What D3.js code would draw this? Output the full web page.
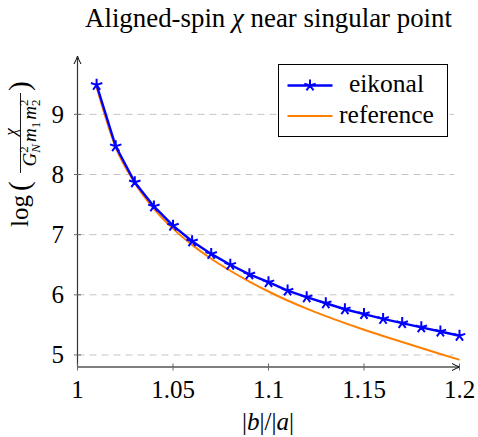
<!DOCTYPE html>
<html lang="en">
<head>
  <meta charset="UTF-8" />
  <title>Aligned-spin chi near singular point</title>
  <script src="https://d3js.org/d3.v7.min.js"></script>
  <style>
    body { margin: 0; background: #fff; }
    svg { display: block; }
  </style>
</head>
<body>
  <svg id="chart" width="478" height="437"></svg>

  <script>
    // values
    const ratio = [1.01, 1.02, 1.03, 1.04, 1.05, 1.06, 1.07, 1.08, 1.09, 1.10,
                   1.11, 1.12, 1.13, 1.14, 1.15, 1.16, 1.17, 1.18, 1.19, 1.20];
    const eikonal = [9.49, 8.47, 7.87, 7.47, 7.15, 6.89, 6.68, 6.50, 6.34, 6.21,
                     6.07, 5.96, 5.86, 5.76, 5.68, 5.60, 5.53, 5.46, 5.39, 5.32];
    const reference = [9.45, 8.45, 7.86, 7.43, 7.10, 6.83, 6.60, 6.40, 6.22, 6.055,
                       5.905, 5.77, 5.645, 5.53, 5.42, 5.315, 5.215, 5.115, 5.015, 4.92];
    const xTicks = [1, 1.05, 1.1, 1.15, 1.2];
    const xTickLabels = ['1', '1.05', '1.1', '1.15', '1.2'];
    const yTicks = [5, 6, 7, 8, 9];
    const seriesNames = ['eikonal', 'reference'];
    const seriesColors = ['#0000ff', '#ff8000'];

    const font = '"Liberation Serif"';
    const svg = d3.select('#chart').style('font-family', font);

    const x = d3.scaleLinear().domain([1, 1.2]).range([77.5, 459.5]);
    const y = d3.scaleLinear().domain([4.8, 9.97]).range([367, 56]);

    // grid lines
    svg.append('g')
      .selectAll('line')
      .data(yTicks)
      .join('line')
      .attr('x1', x(1)).attr('x2', 454)
      .attr('y1', d => y(d)).attr('y2', d => y(d))
      .attr('stroke', '#c4c4c4')
      .attr('stroke-width', 1)
      .attr('stroke-dasharray', '7,5');

    // reference curve
    const refLine = d3.line()
      .x((d, i) => x(ratio[i]))
      .y(d => y(d))
      .curve(d3.curveMonotoneX);

    svg.append('path')
      .datum(reference)
      .attr('d', refLine)
      .attr('fill', 'none')
      .attr('stroke', seriesColors[1])
      .attr('stroke-width', 2);

    // eikonal curve with star marks
    const eikLine = d3.line()
      .x((d, i) => x(ratio[i]))
      .y(d => y(d));

    svg.append('path')
      .datum(eikonal)
      .attr('d', eikLine)
      .attr('fill', 'none')
      .attr('stroke', seriesColors[0])
      .attr('stroke-width', 2.4);

    function starPath(r) {
      let p = '';
      for (let k = 0; k < 5; k++) {
        const a = -Math.PI / 2 + k * 2 * Math.PI / 5;
        p += `M0,0L${(r * Math.cos(a)).toFixed(2)},${(r * Math.sin(a)).toFixed(2)}`;
      }
      return p;
    }

    svg.append('g')
      .selectAll('path')
      .data(eikonal)
      .join('path')
      .attr('transform', (d, i) => `translate(${x(ratio[i])},${y(d)})`)
      .attr('d', starPath(6))
      .attr('fill', 'none')
      .attr('stroke', seriesColors[0])
      .attr('stroke-width', 2);

    // axes
    svg.append('line')
      .attr('x1', x(1)).attr('x2', x(1))
      .attr('y1', y(4.8)).attr('y2', 58)
      .attr('stroke', '#333').attr('stroke-width', 1.2);
    svg.append('path')
      .attr('d', `M${x(1) - 3.5},64 Q${x(1) - 1},59.5 ${x(1)},56 Q${x(1) + 1},59.5 ${x(1) + 3.5},64`)
      .attr('fill', 'none').attr('stroke', '#000').attr('stroke-width', 1);

    svg.append('line')
      .attr('x1', x(1)).attr('x2', 458)
      .attr('y1', y(4.8)).attr('y2', y(4.8))
      .attr('stroke', '#000').attr('stroke-width', 1.2);
    svg.append('path')
      .attr('d', `M452,${y(4.8) - 3.5} Q456.5,${y(4.8) - 1} 460,${y(4.8)} Q456.5,${y(4.8) + 1} 452,${y(4.8) + 3.5}`)
      .attr('fill', 'none').attr('stroke', '#000').attr('stroke-width', 1);

    // ticks
    svg.append('g')
      .selectAll('line')
      .data(xTicks)
      .join('line')
      .attr('x1', d => x(d)).attr('x2', d => x(d))
      .attr('y1', y(4.8) - 3.5).attr('y2', y(4.8) + 3.5)
      .attr('stroke', '#666').attr('stroke-width', 1);

    svg.append('g')
      .selectAll('line')
      .data(yTicks)
      .join('line')
      .attr('x1', x(1) - 3.5).attr('x2', x(1) + 3.5)
      .attr('y1', d => y(d)).attr('y2', d => y(d))
      .attr('stroke', '#666').attr('stroke-width', 1);

    svg.append('g')
      .selectAll('text')
      .data(xTicks)
      .join('text')
      .style('font-family', font)
      .attr('x', d => x(d))
      .attr('y', 397.5)
      .attr('text-anchor', 'middle')
      .attr('font-size', 25)
      .text((d, i) => xTickLabels[i]);

    svg.append('g')
      .selectAll('text')
      .data(yTicks)
      .join('text')
      .style('font-family', font)
      .attr('x', 64)
      .attr('y', d => y(d) + 8.5)
      .attr('text-anchor', 'end')
      .attr('font-size', 25)
      .text(d => d);

    // title, fitted to the width it has in the reference
    const title = svg.append('text')
      .style('font-family', font)
      .attr('x', 268.5).attr('y', 26.5)
      .attr('text-anchor', 'middle')
      .attr('font-size', 25)
      .html('Aligned-spin <tspan font-style="italic">χ</tspan> near singular point');
    const tw = title.node().getComputedTextLength();
    title.attr('font-size', 25 * 367 / tw);

    // x label
    svg.append('text')
      .style('font-family', font)
      .attr('x', 268).attr('y', 430)
      .attr('text-anchor', 'middle')
      .attr('font-size', 25)
      .html('|<tspan font-style="italic">b</tspan>|/|<tspan font-style="italic">a</tspan>|');

    // y label, built in a rotated frame (u = -y, v = x)
    const yl = svg.append('g').attr('transform', 'translate(2,0) rotate(-90)').style('font-family', font);
    yl.append('text').style('font-family', font)
      .attr('x', -227).attr('y', 26).attr('font-size', 25).text('log');
    yl.append('text').style('font-family', font)
      .attr('x', -191).attr('y', 27).attr('font-size', 29).text('(');
    yl.append('text').style('font-family', font)
      .attr('x', -91).attr('y', 27).attr('font-size', 29).text(')');
    yl.append('line')
      .attr('x1', -173).attr('x2', -93)
      .attr('y1', 18.5).attr('y2', 18.5)
      .attr('stroke', '#000').attr('stroke-width', 0.9);
    yl.append('text').style('font-family', font)
      .attr('x', -132).attr('y', 14).attr('text-anchor', 'middle')
      .attr('font-size', 17).attr('font-style', 'italic').text('χ');

    // denominator: G^2_N m_1 m^2_2
    const denomParts = [
      { t: 'G', s: 19, dy: 0, it: true },
      { t: '2', s: 13, dy: -8, it: false, stack: true },
      { t: 'N', s: 13, dy: 4, it: true },
      { t: 'm', s: 19, dy: 0, it: true, gap: 2 },
      { t: '1', s: 13, dy: 4, it: false },
      { t: 'm', s: 19, dy: 0, it: true, gap: 2 },
      { t: '2', s: 13, dy: -8, it: false, stack: true },
      { t: '2', s: 13, dy: 4, it: false }
    ];
    const denom = yl.append('g');
    let u = 0;
    let stackStart = null;
    const base = 34;
    denomParts.forEach(p => {
      if (p.gap) u += p.gap;
      const xPos = p.stack ? u : (stackStart !== null ? stackStart : u);
      const el = denom.append('text')
        .style('font-family', font)
        .attr('x', xPos).attr('y', base + p.dy)
        .attr('font-size', p.s)
        .attr('font-style', p.it ? 'italic' : 'normal')
        .text(p.t);
      const w = el.node().getComputedTextLength();
      if (p.stack) {
        stackStart = u;
        u = u + w;
      } else if (stackStart !== null) {
        u = Math.max(u, stackStart + w);
        stackStart = null;
      } else {
        u += w;
      }
    });
    // centre the denominator under the fraction bar
    denom.attr('transform', `translate(${-133 - u / 2},0)`);

    // legend
    const legend = svg.append('g').style('font-family', font);
    legend.append('rect')
      .attr('x', 278.5).attr('y', 64.5)
      .attr('width', 169).attr('height', 72)
      .attr('fill', '#fff').attr('stroke', '#000').attr('stroke-width', 1);

    const legendY = [85.5, 116];
    seriesNames.forEach((name, i) => {
      legend.append('line')
        .attr('x1', 287.5).attr('x2', 332.5)
        .attr('y1', legendY[i]).attr('y2', legendY[i])
        .attr('stroke', seriesColors[i])
        .attr('stroke-width', i === 0 ? 2.4 : 2);
      if (i === 0) {
        legend.append('path')
          .attr('transform', `translate(310,${legendY[i]})`)
          .attr('d', starPath(6))
          .attr('fill', 'none')
          .attr('stroke', seriesColors[i])
          .attr('stroke-width', 2);
      }
      legend.append('text')
        .style('font-family', font)
        .attr('x', 386.5).attr('y', legendY[i] + 6.5)
        .attr('text-anchor', 'middle')
        .attr('font-size', 25.5)
        .text(name);
    });
  </script>
</body>
</html>
